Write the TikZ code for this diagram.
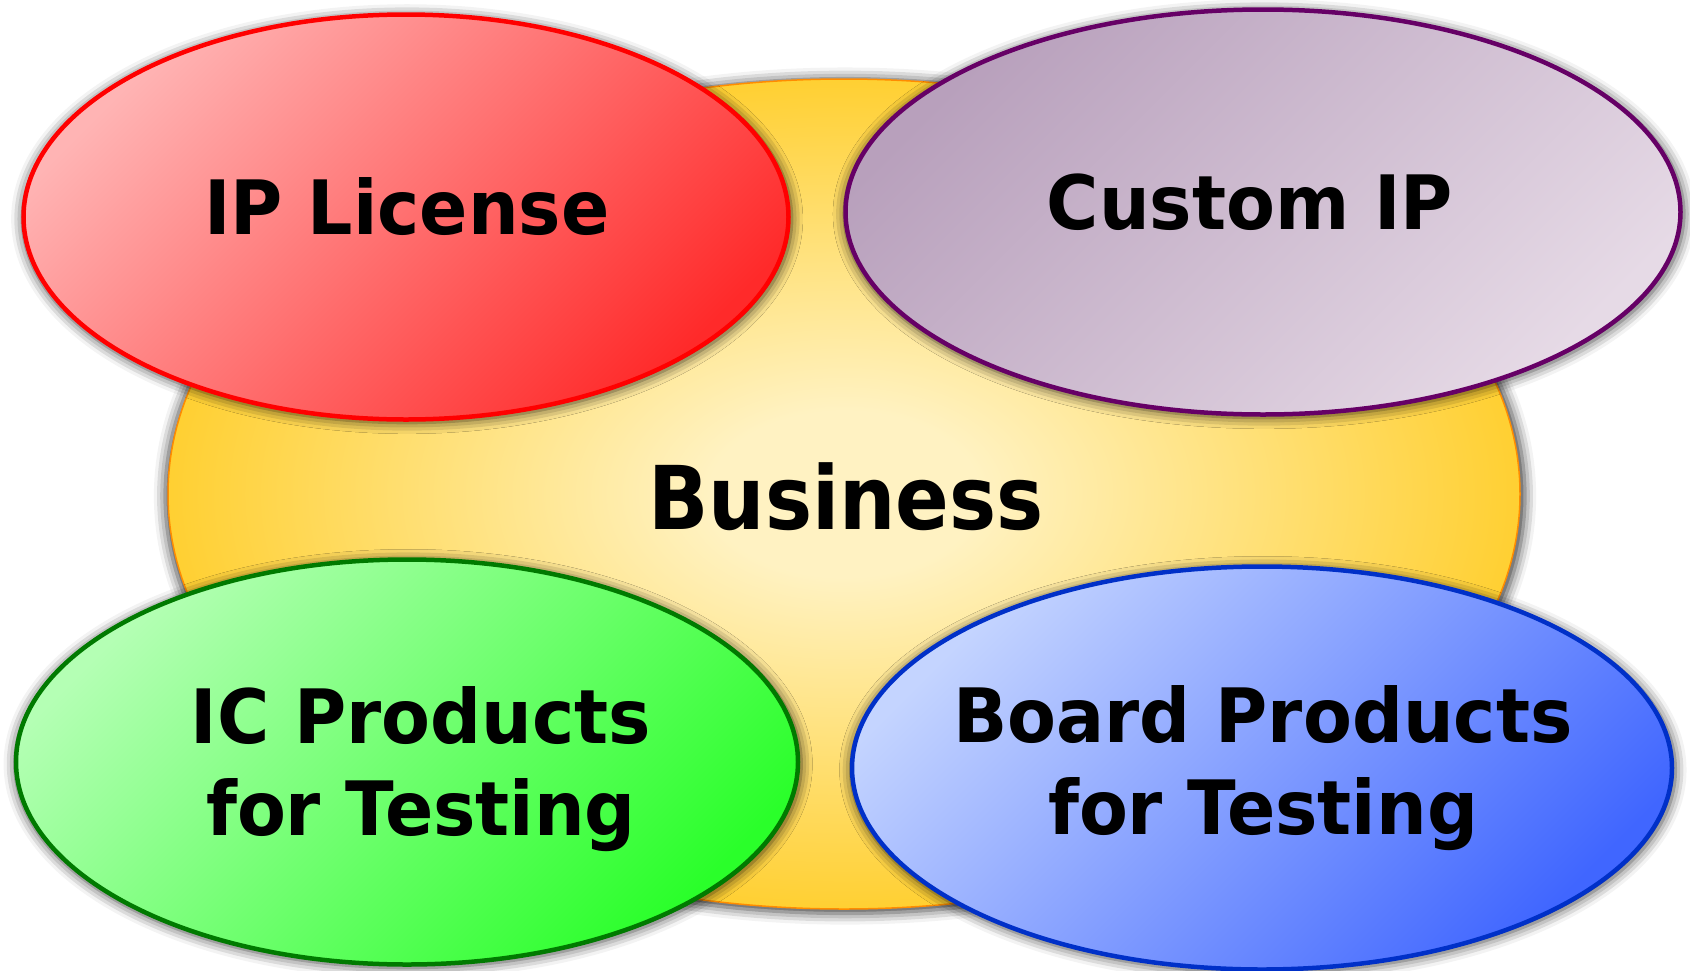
\documentclass[tikz,border=0pt]{standalone}
\usepackage{fontspec}
\newfontfamily\lblfont{DejaVu Sans}[FakeStretch=0.95]
\newfontfamily\bizfont{DejaVu Sans}[FakeStretch=0.9]
\usetikzlibrary{shapes.geometric,shadows.blur}
\definecolor{redA}{HTML}{FFB4B4}
\definecolor{redB}{HTML}{FF2A2A}
\definecolor{redL}{HTML}{FF0000}
\definecolor{purA}{HTML}{B8A0BC}
\definecolor{purB}{HTML}{E6DAE6}
\definecolor{purL}{HTML}{660066}
\definecolor{grnA}{HTML}{B4FFB4}
\definecolor{grnB}{HTML}{2AFF2A}
\definecolor{grnL}{HTML}{007A00}
\definecolor{bluA}{HTML}{C4D4FF}
\definecolor{bluB}{HTML}{4066FF}
\definecolor{bluL}{HTML}{0030C8}
\definecolor{bizin}{HTML}{FFF2C2}
\definecolor{bizout}{HTML}{FFC70E}
\definecolor{bizL}{HTML}{FF8C00}
\pgfdeclareradialshading{bizshade}{\pgfpoint{0bp}{0bp}}{color(0bp)=(bizin); color(5bp)=(bizin); color(30bp)=(bizout); color(50bp)=(bizout)}
\begin{document}
\begin{tikzpicture}[x=1pt,y=-1pt,
  soft/.style={blur shadow={shadow xshift=1pt, shadow yshift=-2pt, shadow scale=1.006, shadow blur radius=11pt, shadow opacity=75}},
  bubble/.style={ellipse, draw, line width=4.5pt, soft, shading angle=45, inner sep=0pt},
  lbl/.style={font=\lblfont\bfseries\fontsize{75}{92}\selectfont, align=center, text=black, inner sep=0pt}]
\useasboundingbox (0,0) rectangle (1690,970);
\node[ellipse, draw=bizL, line width=1.5pt, shading=bizshade, soft, inner sep=0pt,
      minimum width=1352pt, minimum height=830pt] (biz) at (844,494) {};
\node[bubble, draw=redL, top color=redA, bottom color=redB, shading angle=45,
      minimum width=765pt, minimum height=405pt] (ipl) at (406,217) {};
\node[bubble, draw=purL, top color=purA, bottom color=purB, shading angle=45,
      minimum width=835pt, minimum height=405pt] (cip) at (1263,212) {};
\node[bubble, draw=grnL, top color=grnA, bottom color=grnB, shading angle=45,
      minimum width=782pt, minimum height=405pt] (icp) at (407,762) {};
\node[bubble, draw=bluL, top color=bluA, bottom color=bluB, shading angle=45,
      minimum width=820pt, minimum height=403pt] (bdp) at (1262,768) {};
\node[lbl, anchor=base] (tipl) at (407,234) {IP License};
\node[lbl, anchor=base] (tcip) at (1250,229) {Custom IP};
\node[lbl, font=\bizfont\bfseries\fontsize{88}{100}\selectfont, anchor=base] (tbiz) at (846,529) {Business};
\node[lbl] (ticp) at (421,769) {IC Products\\for Testing};
\node[lbl] (tbdp) at (1263,768) {Board Products\\for Testing};
\end{tikzpicture}
\end{document}
